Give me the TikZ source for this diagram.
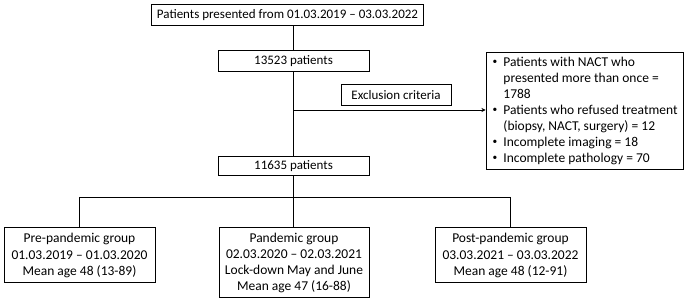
\documentclass[tikz,border=0pt]{standalone}
\usepackage{fontspec}
\setmainfont{Carlito}
\usetikzlibrary{arrows.meta}
\newcommand{\smbul}{\raisebox{0.3ex}{\scalebox{0.7}{\textbullet}}}
\begin{document}
\begin{tikzpicture}[x=1pt,y=-1pt,
  box/.style={draw,line width=1pt,inner sep=0pt,align=center,font=\fontsize{13}{16.8}\selectfont},
  lbl/.style={inner sep=0pt,align=center,font=\fontsize{13.5}{16.3}\selectfont},
  conn/.style={line width=0.8pt}]
\useasboundingbox (0,0) rectangle (685,299);
\node[box,minimum width=272,minimum height=21] (top) at (287.5,15.5) {Patients presented from 01.03.2019 -- 03.03.2022};
\node[box,minimum width=151,minimum height=21] (n1) at (293.5,61.5) {13523 patients};
\node[box,minimum width=110,minimum height=21] (exc) at (396,95.5) {Exclusion criteria};
\node[box,minimum width=197,minimum height=117] (list) at (584.5,111.5) {};
\node[lbl,anchor=west] (listtext) at ([xshift=7pt]list.west) {\fontsize{13.5}{16}\selectfont
\begin{tabular}{@{}l@{\hspace{6pt}}l@{}}
\smbul & Patients with NACT who\\
 & presented more than once =\\
 & 1788\\
\smbul & Patients who refused treatment\\
 & (biopsy, NACT, surgery) = 12\\
\smbul & Incomplete imaging = 18\\
\smbul & Incomplete pathology = 70
\end{tabular}};
\node[box,minimum width=151,minimum height=19] (n2) at (293.5,166.5) {11635 patients};
\node[box,minimum width=151,minimum height=55] (g1) at (79.5,254.5) {};
\node[lbl] (g1t) at ([yshift=-1pt]g1.center) {Pre-pandemic group\\01.03.2019 -- 01.03.2020\\Mean age 48 (13-89)};
\node[box,minimum width=150,minimum height=70] (g2) at (294,262) {};
\node[lbl] (g2t) at ([yshift=-1pt]g2.center) {Pandemic group\\02.03.2020 -- 02.03.2021\\Lock-down May and June\\Mean age 47 (16-88)};
\node[box,minimum width=151,minimum height=55] (g3) at (510.5,254.5) {};
\node[lbl] (g3t) at ([yshift=-1pt]g3.center) {Post-pandemic group\\03.03.2021 -- 03.03.2022\\Mean age 48 (12-91)};
\coordinate (split) at (293,110);
\coordinate (br) at (293,197);
\draw[conn] (top.south -| split) -- (n1.north -| split);
\draw[conn] (n1.south -| split) -- (n2.north -| split);
\draw[conn,-{Stealth[length=4pt,width=4pt]}] (split) -- (split -| list.west);
\draw[conn] (n2.south -| br) -- (br);
\draw[conn] (br -| g1) -- (br -| g3);
\draw[conn] (br -| g1) -- (g1.north);
\draw[conn] (br) -- (g2.north -| br);
\draw[conn] (br -| g3) -- (g3.north);
\end{tikzpicture}
\end{document}
